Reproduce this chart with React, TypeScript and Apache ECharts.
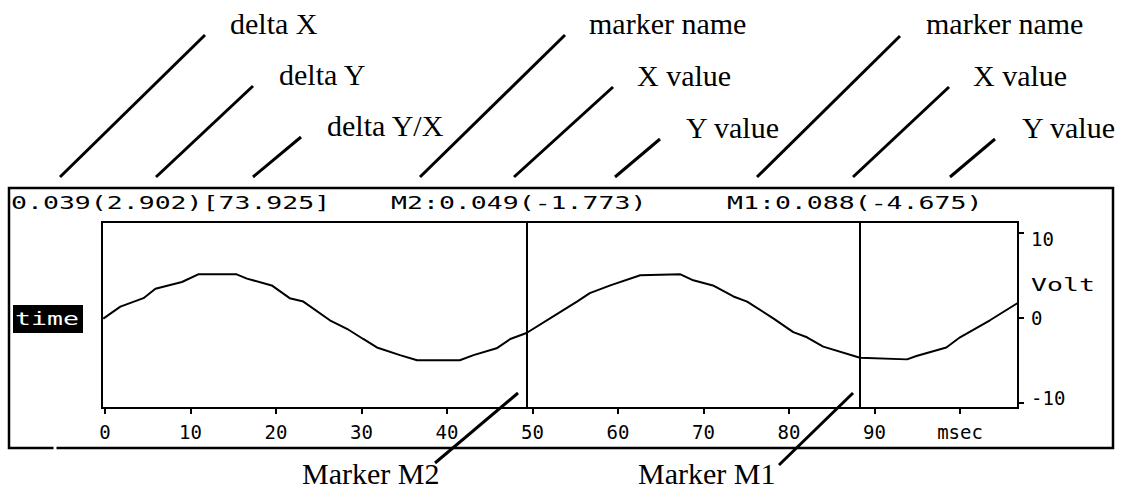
import React, { useEffect, useRef } from "react";
import * as echarts from "echarts";

// ---- data ----
const timeMs = [-0.2, 1.8, 4.5, 5.9, 9.0, 10.9, 15.4, 16.6, 19.5, 21.6, 23.2, 26.3, 28.3, 30.2, 31.8, 34.5, 36.5, 41.5, 43.1, 45.8, 47.4, 49.3, 53.6, 55.2, 56.7, 59.1, 62.6, 67.3, 68.8, 71.1, 73.5, 75.1, 78.2, 80.5, 82.1, 84.0, 88.3, 93.8, 94.9, 98.4, 100.0, 103.5, 106.7];
const volts = [-0.1, 1.3, 2.3, 3.4, 4.2, 5.1, 5.1, 4.6, 3.8, 2.3, 1.9, -0.3, -1.3, -2.5, -3.5, -4.4, -5.0, -5.0, -4.4, -3.6, -2.5, -1.8, 0.9, 1.9, 2.9, 3.8, 5.0, 5.1, 4.4, 3.8, 2.5, 1.9, -0.1, -1.7, -2.3, -3.4, -4.7, -4.9, -4.5, -3.5, -2.3, -0.3, 1.7];

const xTicks = [0, 10, 20, 30, 40, 50, 60, 70, 80, 90, 100];
const xUnitLabel = "msec";
const yTicks = [-10, 0, 10];
const yUnitLabel = "Volt";
const xAxisName = "time";

const markerNames = ["M2", "M1"];
const markerXs = [0.049, 0.088];
const markerYs = [-1.773, -4.675];
const markerPosMs = [49.3, 88.3];

const deltaX = 0.039;
const deltaY = 2.902;
const deltaRatio = 73.925;

const topCallouts = ["delta X", "delta Y", "delta Y/X", "marker name", "X value", "Y value", "marker name", "X value", "Y value"];
const bottomCallouts = ["Marker M2", "Marker M1"];

// ---- layout (pixels) ----
const topLines = [
  [60, 177, 205, 35], [156, 177, 253, 86], [253, 177, 301, 137],
  [420, 177, 565, 35], [514, 177, 613, 87], [615, 177, 660, 139],
  [757, 177, 900, 36], [853, 177, 949, 87], [950, 177, 995, 139],
];
const topTextPos = [
  [230, 34], [279, 85], [327, 136],
  [589, 34], [637, 86], [686, 138],
  [926, 34], [973, 86], [1022, 138],
];
const bottomLines = [[518, 393, 435, 463], [853, 393, 779, 465]];
const bottomTextPos = [[302, 484], [638, 484]];

const MONO = "'DejaVu Sans Mono', monospace";
const SERIF = "'Liberation Serif', 'Times New Roman', serif";
const SERIF_SIZE = 30;
const MONO_SIZE = 17;
const MONO_SCALE = 1.56;
const AXIS_FONT = 19;

function serifText(text: string, x: number, baseline: number) {
  return {
    type: "text",
    x,
    y: baseline - SERIF_SIZE * 0.35,
    silent: true,
    style: {
      text,
      fill: "#000",
      fontFamily: SERIF,
      fontSize: SERIF_SIZE,
      align: "left",
      verticalAlign: "middle",
      textAlign: "left",
      textVerticalAlign: "middle",
    },
  };
}

function monoText(text: string, x: number, cy: number, fill = "#000") {
  return {
    type: "text",
    x,
    y: cy,
    scaleX: MONO_SCALE,
    silent: true,
    z: 10,
    style: {
      text,
      fill,
      fontFamily: MONO,
      fontSize: MONO_SIZE,
      align: "left",
      verticalAlign: "middle",
      textAlign: "left",
      textVerticalAlign: "middle",
    },
  };
}

function lineEl(c: number[], w = 3) {
  return {
    type: "line",
    silent: true,
    shape: { x1: c[0], y1: c[1], x2: c[2], y2: c[3] },
    style: { stroke: "#000", lineWidth: w },
  };
}

const yRich = (pad: number[]) => ({
  fontFamily: MONO,
  fontSize: AXIS_FONT,
  color: "#000",
  padding: pad,
});

export default function App() {
  const ref = useRef<HTMLDivElement>(null);

  useEffect(() => {
    if (!ref.current) return;
    const chart = echarts.init(ref.current, null, { renderer: "svg" });

    const headerDelta = `${deltaX.toFixed(3)}(${deltaY.toFixed(3)})[${deltaRatio.toFixed(3)}]`;
    const headerMarkers = markerNames.map(
      (n, i) => `${n}:${markerXs[i].toFixed(3)}(${markerYs[i].toFixed(3)})`
    );

    const graphic: any[] = [
      {
        type: "rect",
        silent: true,
        shape: { x: 9, y: 188, width: 1104, height: 260 },
        style: { fill: "none", stroke: "#000", lineWidth: 2.5 },
      },
      {
        type: "rect",
        silent: true,
        shape: { x: 53.5, y: 446, width: 3, height: 4 },
        style: { fill: "#fff" },
      },
      monoText(headerDelta, 11, 202.5),
      monoText(headerMarkers[0], 391, 202.5),
      monoText(headerMarkers[1], 727, 202.5),
      {
        type: "rect",
        silent: true,
        shape: { x: 13, y: 305, width: 70, height: 28 },
        style: { fill: "#000" },
      },
      monoText(xAxisName, 15, 319, "#fff"),
      monoText(yUnitLabel, 1031, 285),
      ...topLines.map((c) => lineEl(c)),
      ...topCallouts.map((t, i) => serifText(t, topTextPos[i][0], topTextPos[i][1])),
      ...bottomLines.map((c) => lineEl(c)),
      ...bottomCallouts.map((t, i) => serifText(t, bottomTextPos[i][0], bottomTextPos[i][1])),
    ];

    const option: any = {
      animation: false,
      backgroundColor: "#fff",
      grid: {
        left: 102,
        top: 222,
        width: 916,
        height: 186,
        show: true,
        borderColor: "#000",
        borderWidth: 2,
        backgroundColor: "transparent",
        containLabel: false,
      },
      xAxis: {
        type: "value",
        min: -0.35,
        max: 106.78,
        position: "bottom",
        axisLine: { show: true, onZero: false, lineStyle: { color: "#000", width: 2 } },
        axisTick: {
          show: true,
          inside: false,
          length: 6,
          customValues: xTicks,
          lineStyle: { color: "#000", width: 2 },
        },
        axisLabel: {
          customValues: xTicks,
          formatter: (v: number) => (v === 100 ? xUnitLabel : String(v)),
          color: "#000",
          fontFamily: MONO,
          fontSize: AXIS_FONT,
          margin: 14,
        },
        splitLine: { show: false },
      },
      yAxis: {
        type: "value",
        min: -10.62,
        max: 11.26,
        position: "right",
        axisLine: { show: true, onZero: false, lineStyle: { color: "#000", width: 2 } },
        axisTick: {
          show: true,
          inside: false,
          length: 6,
          customValues: yTicks,
          lineStyle: { color: "#000", width: 2 },
        },
        axisLabel: {
          customValues: yTicks,
          color: "#000",
          fontFamily: MONO,
          fontSize: AXIS_FONT,
          margin: 13,
          formatter: (v: number) =>
            v === yTicks[yTicks.length - 1]
              ? `{hi|${v}}`
              : v === yTicks[0]
              ? `{lo|${v}}`
              : `{mid|${v}}`,
          rich: {
            hi: yRich([12, 0, 0, 0]),
            lo: yRich([0, 0, 9, 0]),
            mid: yRich([0, 0, 0, 0]),
          },
        },
        splitLine: { show: false },
      },
      series: [
        {
          type: "line",
          data: timeMs.map((t, i) => [t, volts[i]]),
          showSymbol: false,
          symbol: "none",
          clip: true,
          lineStyle: { color: "#000", width: 2 },
          markLine: {
            silent: true,
            symbol: "none",
            label: { show: false },
            lineStyle: { color: "#000", width: 2, type: "solid" },
            data: markerPosMs.map((x) => ({ xAxis: x })),
          },
        },
      ],
      graphic,
    };

    chart.setOption(option);
    return () => chart.dispose();
  }, []);

  return (
    <div
      ref={ref}
      style={{ position: "absolute", left: 0, top: 0, width: 1131, height: 490 }}
    />
  );
}
